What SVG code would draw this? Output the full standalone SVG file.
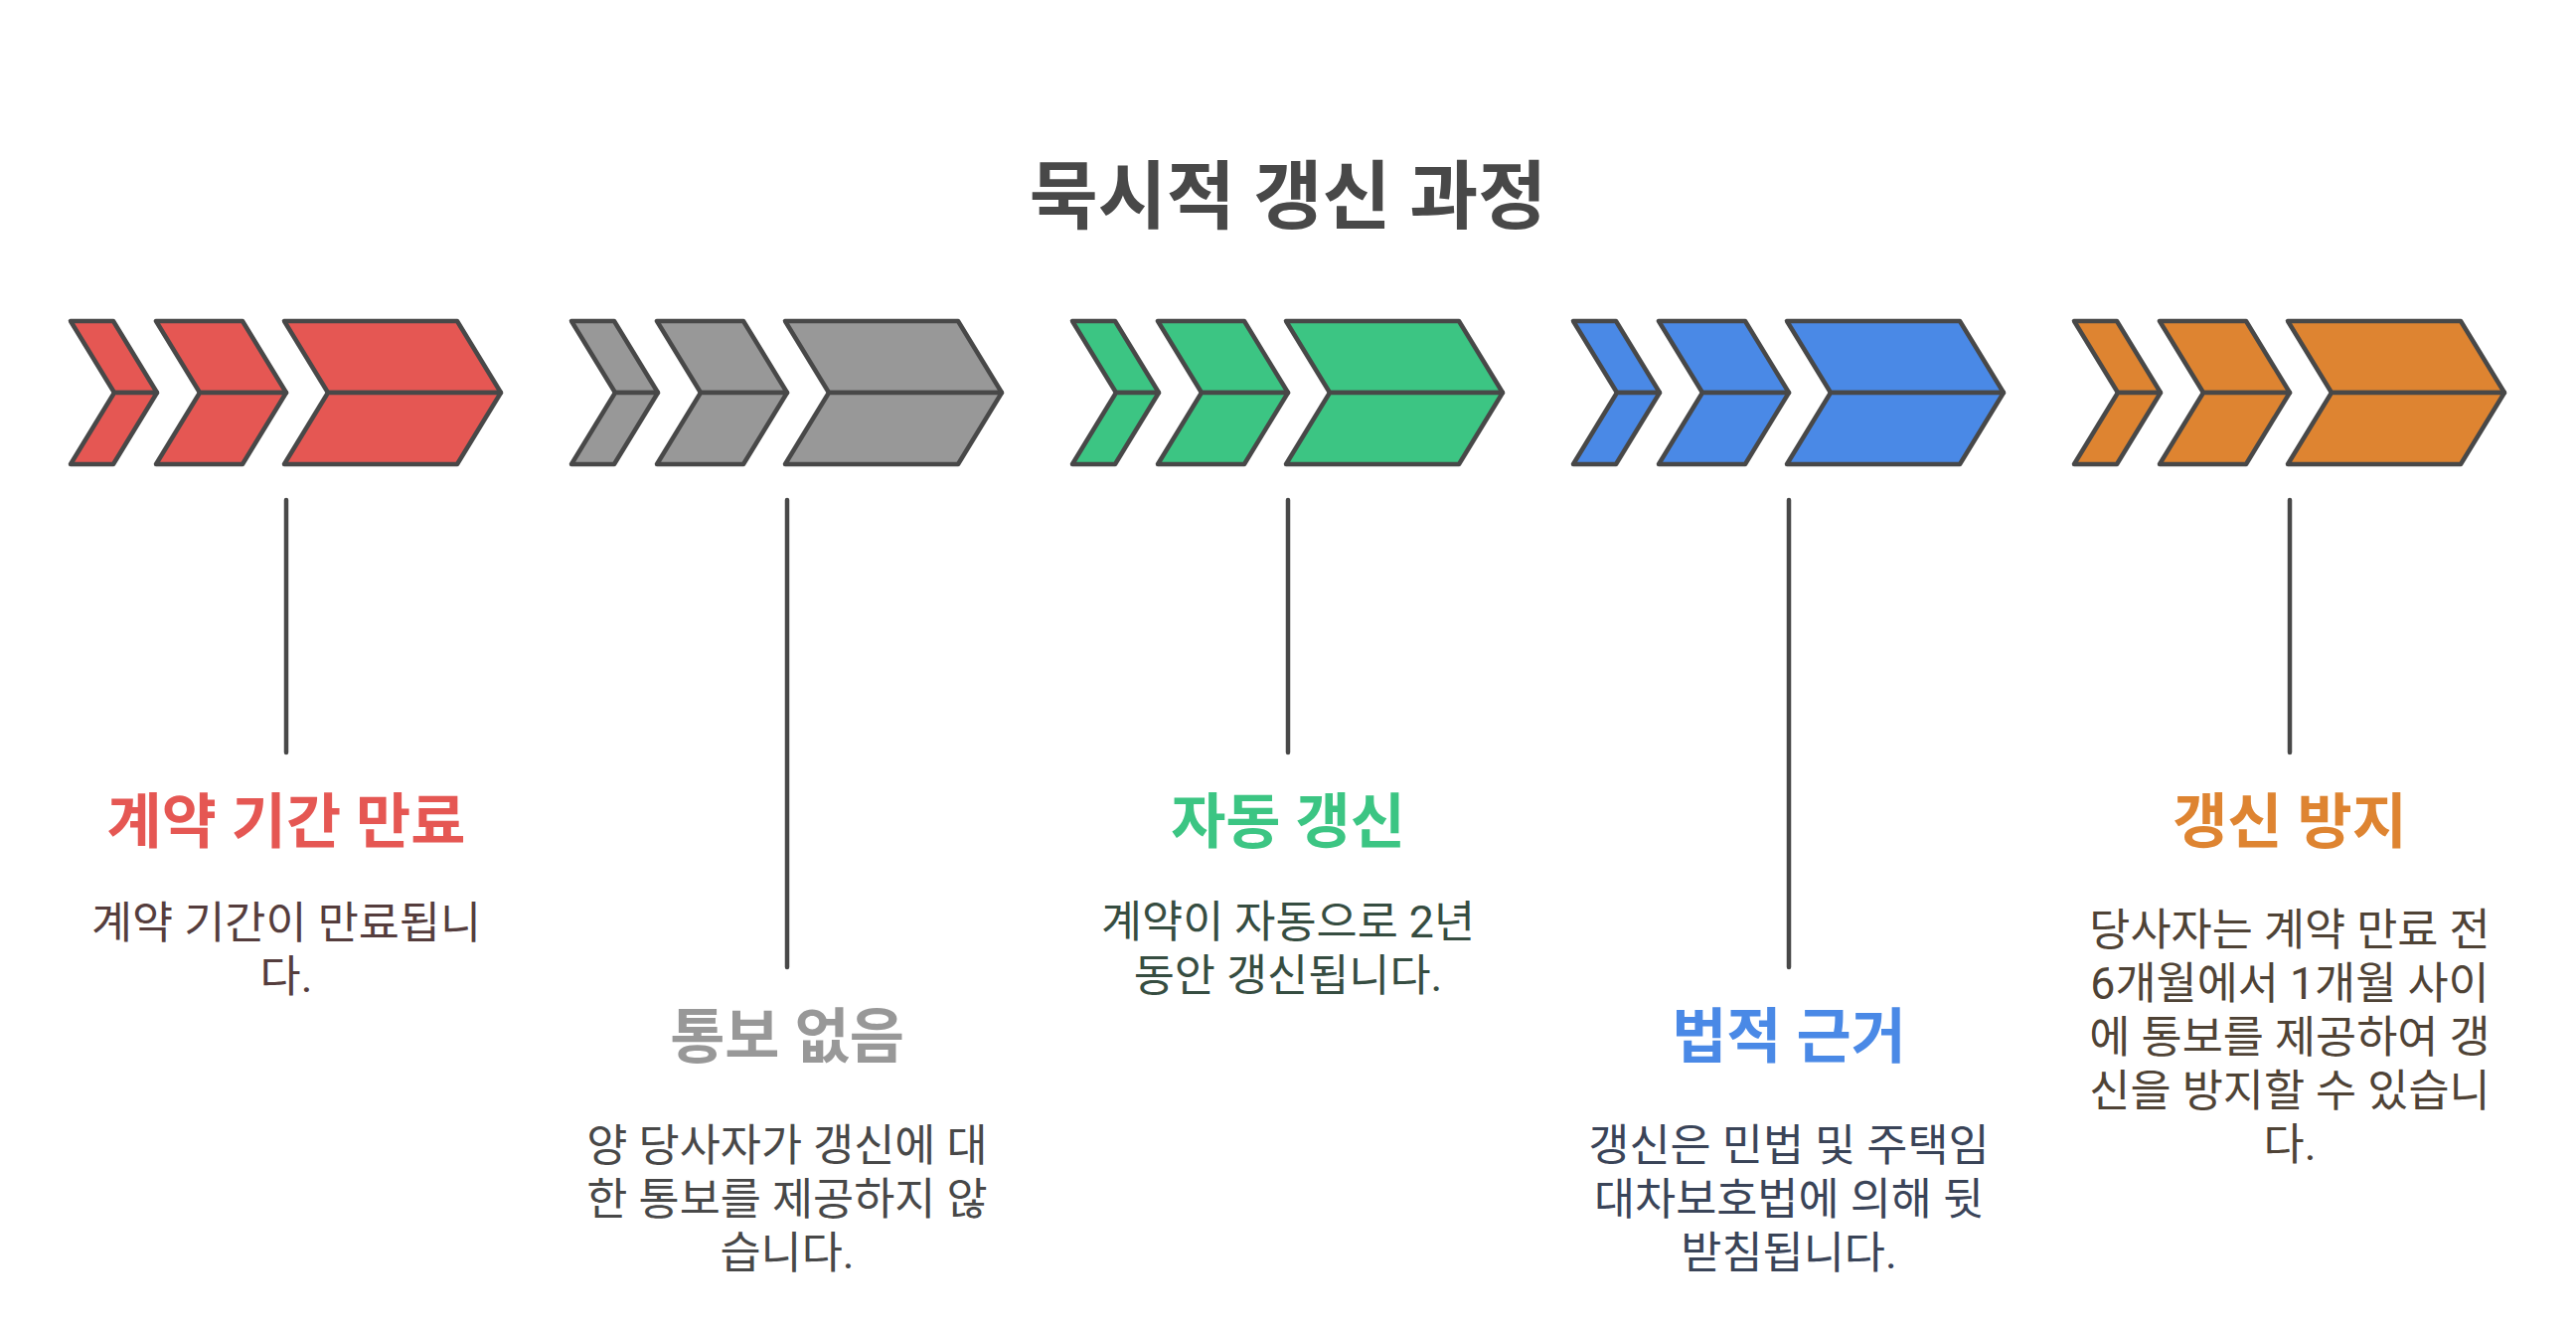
<svg xmlns="http://www.w3.org/2000/svg" width="2592" height="1340" viewBox="0 0 2592 1340">
<style>
.bg{fill:#ffffff}
.chev{stroke:#484848;stroke-width:4.5;stroke-linejoin:round}
.red{fill:#E55753}.gray{fill:#989898}.green{fill:#3CC583}.blue{fill:#4A89E6}.orange{fill:#DE8431}
.title{font-family:Roboto,"Noto Sans CJK KR",sans-serif;font-weight:700;font-size:75px;fill:#484848;text-anchor:middle}
.head{font-family:Roboto,"Noto Sans CJK KR",sans-serif;font-weight:700;font-size:60px;text-anchor:middle}
.body{font-family:Roboto,"Noto Sans CJK KR",sans-serif;font-size:44.7px;text-anchor:middle}
.conn line{stroke:#484848;stroke-width:4.5;stroke-linecap:round}
</style>
<defs>
<g id="chevs">
<polygon class="chev" points="0,323 43,323 87,395 44,395"/>
<polygon class="chev" points="44,395 87,395 43,467 0,467"/>
<polygon class="chev" points="86,323 173,323 217,395 130,395"/>
<polygon class="chev" points="130,395 217,395 173,467 86,467"/>
<polygon class="chev" points="215,323 389,323 433,395 259,395"/>
<polygon class="chev" points="259,395 433,395 389,467 215,467"/>
</g>
</defs>
<rect class="bg" x="0" y="0" width="2592" height="1340"/>
<text id="title" class="title" x="1296" y="224">묵시적 갱신 과정</text>
<g id="connectors" class="conn">
<line x1="288" y1="503" x2="288" y2="757"/>
<line x1="792" y1="503" x2="792" y2="973"/>
<line x1="1296" y1="503" x2="1296" y2="757"/>
<line x1="1800" y1="503" x2="1800" y2="973"/>
<line x1="2304" y1="503" x2="2304" y2="757"/>
</g>
<g id="node-expiry">
<use href="#chevs" x="71" class="red"/>
<text class="head" x="288" y="848" fill="#E55753">계약 기간 만료</text>
<text class="body" fill="#553D3D"><tspan x="288" y="944">계약 기간이 만료됩니</tspan><tspan x="288" y="998">다.</tspan></text>
</g>
<g id="node-nonotice">
<use href="#chevs" x="575" class="gray"/>
<text class="head" x="792" y="1064" fill="#989898">통보 없음</text>
<text class="body" fill="#484848"><tspan x="792" y="1168">양 당사자가 갱신에 대</tspan><tspan x="792" y="1222">한 통보를 제공하지 않</tspan><tspan x="792" y="1276">습니다.</tspan></text>
</g>
<g id="node-auto">
<use href="#chevs" x="1079" class="green"/>
<text class="head" x="1296" y="848" fill="#3CC583">자동 갱신</text>
<text class="body" fill="#364D41"><tspan x="1296" y="943">계약이 자동으로 2년</tspan><tspan x="1296" y="997">동안 갱신됩니다.</tspan></text>
</g>
<g id="node-legal">
<use href="#chevs" x="1583" class="blue"/>
<text class="head" x="1800" y="1064" fill="#4A89E6">법적 근거</text>
<text class="body" fill="#3A4458"><tspan x="1800" y="1168">갱신은 민법 및 주택임</tspan><tspan x="1800" y="1222">대차보호법에 의해 뒷</tspan><tspan x="1800" y="1276">받침됩니다.</tspan></text>
</g>
<g id="node-prevent">
<use href="#chevs" x="2087" class="orange"/>
<text class="head" x="2304" y="848" fill="#DE8431">갱신 방지</text>
<text class="body" fill="#4F4336"><tspan x="2304" y="951">당사자는 계약 만료 전</tspan><tspan x="2304" y="1005">6개월에서 1개월 사이</tspan><tspan x="2304" y="1059">에 통보를 제공하여 갱</tspan><tspan x="2304" y="1113">신을 방지할 수 있습니</tspan><tspan x="2304" y="1167">다.</tspan></text>
</g>
</svg>
